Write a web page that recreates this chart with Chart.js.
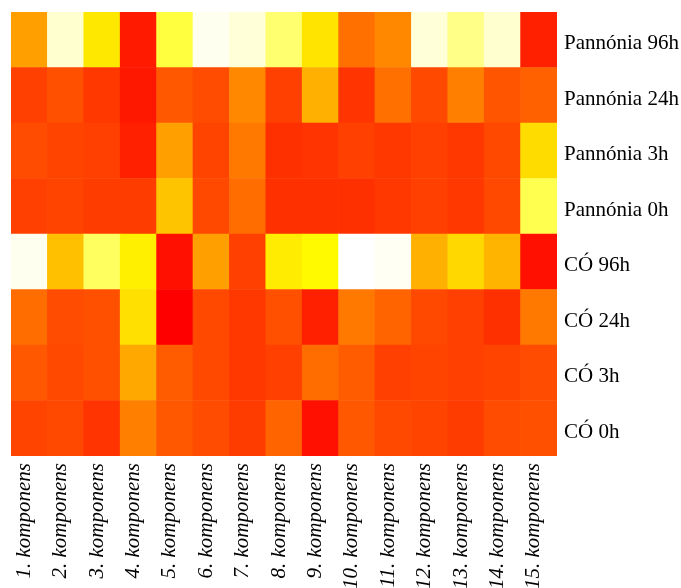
<!DOCTYPE html>
<html>
<head>
<meta charset="utf-8">
<script src="https://cdn.jsdelivr.net/npm/chart.js@4.4.1/dist/chart.umd.min.js"></script>
<style>
  html, body { margin: 0; padding: 0; background: #fff; }
  #wrap { width: 681px; height: 588px; }
</style>
</head>
<body>
<div id="wrap"><canvas id="myChart" width="681" height="588"></canvas></div>
<script>
// heat index: 0..255 = red -> yellow, 256..510 = yellow -> white
const components = ['1. komponens', '2. komponens', '3. komponens', '4. komponens', '5. komponens',
    '6. komponens', '7. komponens', '8. komponens', '9. komponens', '10. komponens',
    '11. komponens', '12. komponens', '13. komponens', '14. komponens', '15. komponens'];

// rows listed bottom to top
const rowLabels = ['CÓ 0h', 'CÓ 3h', 'CÓ 24h', 'CÓ 96h',
    'Pannónia 0h', 'Pannónia 3h', 'Pannónia 24h', 'Pannónia 96h'];

const co0h   = [68, 72, 52, 128, 88, 76, 60, 100, 16, 88, 72, 68, 60, 76, 80];
const co3h   = [88, 72, 80, 168, 92, 72, 56, 64, 108, 92, 64, 68, 64, 68, 76];
const co24h  = [108, 76, 80, 224, 0, 72, 56, 80, 32, 120, 100, 72, 64, 48, 120];
const co96h  = [495, 192, 351, 240, 16, 160, 64, 236, 250, 510, 499, 176, 216, 180, 16];
const pan0h  = [64, 68, 60, 60, 196, 72, 108, 48, 48, 48, 56, 64, 56, 72, 335];
const pan3h  = [76, 68, 64, 32, 160, 68, 120, 48, 52, 64, 56, 64, 56, 72, 220];
const pan24h = [64, 80, 56, 24, 88, 76, 136, 64, 176, 52, 112, 72, 128, 84, 96];
const pan96h = [160, 463, 232, 26, 319, 495, 471, 367, 228, 112, 136, 471, 391, 463, 32];

const rows = [co0h, co3h, co24h, co96h, pan0h, pan3h, pan24h, pan96h];

function heat(v){
    if(v <= 255){
        return 'rgb(255,' + Math.round(v) + ',0)';
    }
    return 'rgb(255,255,' + Math.round(Math.min(v - 255, 255)) + ')';
}

window.onload = () => {
    const ctx = document.getElementById('myChart').getContext('2d');
    const datasets = rows.map((vals, i) => ({
        label: rowLabels[i],
        data: vals.map(() => 1),
        backgroundColor: vals.map(heat),
        borderWidth: 0,
        barPercentage: 1,
        categoryPercentage: 1,
        stack: 'heat'
    }));

    new Chart(ctx, {
        type: 'bar',
        data: {
            labels: components,
            datasets: datasets
        },
        options: {
            responsive: false,
            animation: false,
            layout: { padding: { left: 11, top: 12, right: 0, bottom: 0 } },
            plugins: {
                legend: { display: false },
                tooltip: { enabled: false }
            },
            scales: {
                x: {
                    stacked: true,
                    grid: { display: false, drawTicks: false },
                    border: { display: false },
                    afterFit: (axis) => {
                        axis.height = 132;
                        axis.paddingLeft = 0;
                        axis.paddingRight = 0;
                    },
                    ticks: {
                        minRotation: 90,
                        maxRotation: 90,
                        padding: 7,
                        labelOffset: -5,
                        color: '#000',
                        font: { family: '"Liberation Serif", "DejaVu Serif", serif', size: 21, style: 'italic' }
                    }
                },
                y: {
                    stacked: true,
                    position: 'right',
                    min: 0,
                    max: 8,
                    grid: { display: false, drawTicks: false },
                    border: { display: false },
                    afterFit: (axis) => {
                        axis.width = 124;
                        axis.paddingTop = 0;
                        axis.paddingBottom = 0;
                    },
                    afterBuildTicks: (axis) => {
                        axis.ticks = rowLabels.map((l, i) => ({ value: i + 0.5 }));
                    },
                    ticks: {
                        padding: 7,
                        labelOffset: 4,
                        color: '#000',
                        font: { family: '"Liberation Serif", "DejaVu Serif", serif', size: 21 },
                        callback: (value) => rowLabels[Math.floor(value)]
                    }
                }
            }
        }
    });
}
</script>
</body>
</html>
